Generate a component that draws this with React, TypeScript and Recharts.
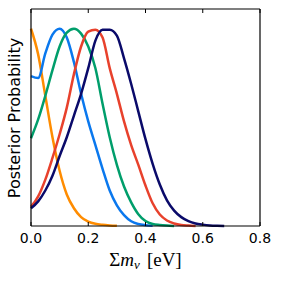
import { LineChart, Line, XAxis, YAxis } from "recharts";

// sum of neutrino masses [eV]
const massGrid = [
  0, 0.025, 0.05, 0.075, 0.1, 0.125, 0.15, 0.175, 0.2, 0.225, 0.25, 0.275,
  0.3, 0.325, 0.35, 0.375, 0.4, 0.425, 0.45, 0.475, 0.5, 0.525, 0.55, 0.575,
  0.6, 0.625, 0.65, 0.675,
];

// normalised posteriors
const orangePost = [
  1.0, 0.87, 0.66, 0.45, 0.28, 0.16, 0.09, 0.045, 0.022, 0.011, 0.006, 0.003,
  0.001,
];
const bluePost = [
  0.76, 0.75, 0.875, 0.97, 1.0, 0.955, 0.83, 0.67, 0.53, 0.41, 0.29, 0.18,
  0.105, 0.055, 0.024, 0.01, 0.004, 0.001,
];
const greenPost = [
  0.445, 0.54, 0.66, 0.79, 0.91, 0.98, 1.0, 0.975, 0.91, 0.8, 0.62, 0.45, 0.31,
  0.2, 0.12, 0.06, 0.025, 0.01, 0.005, 0.002, 0.0,
];
const redPost = [
  0.097, 0.15, 0.235, 0.345, 0.465, 0.6, 0.77, 0.91, 0.985, 0.995, 0.955, 0.8,
  0.67, 0.53, 0.41, 0.31, 0.205, 0.115, 0.058, 0.028, 0.013, 0.005, 0.002, 0.0,
];
const navyPost = [
  0.09, 0.125, 0.18, 0.255, 0.355, 0.45, 0.56, 0.67, 0.8, 0.94, 0.995, 0.995,
  0.965, 0.85, 0.72, 0.58, 0.44, 0.315, 0.21, 0.13, 0.078, 0.045, 0.025, 0.013,
  0.007, 0.003, 0.001, 0.0,
];

const xTicks = [0, 0.2, 0.4, 0.6, 0.8];

const data = massGrid.map((m, i) => ({
  m,
  orange: orangePost[i] ?? null,
  blue: bluePost[i] ?? null,
  green: greenPost[i] ?? null,
  red: redPost[i] ?? null,
  navy: navyPost[i] ?? null,
}));

const BottomTick = ({ x, y, payload }: any) => (
  <g>
    <line x1={x} x2={x} y1={y} y2={y - 4} stroke="#000" strokeWidth={1} />
    <text
      x={x}
      y={y + 17}
      textAnchor="middle"
      fontSize={14}
      fontFamily="DejaVu Sans"
      fill="#000"
    >
      {Number(payload.value).toFixed(1)}
    </text>
  </g>
);

const TopTick = ({ x, y }: any) => (
  <line x1={x} x2={x} y1={y} y2={y + 4} stroke="#000" strokeWidth={1} />
);

const xLabel = (props: any) => {
  const vb = props.viewBox;
  const cx = vb.x + vb.width / 2;
  return (
    <text
      x={cx}
      y={266}
      textAnchor="middle"
      fontFamily="Liberation Serif"
      fontSize={19}
      fill="#000"
    >
      <tspan>Σ</tspan>
      <tspan fontStyle="italic">m</tspan>
      <tspan fontStyle="italic" fontSize={13} dy={3}>
        ν
      </tspan>
      <tspan dy={-3} dx={7}>
        [eV]
      </tspan>
    </text>
  );
};

const yLabel = () => (
  <text
    x={20}
    y={118}
    transform="rotate(-90, 20, 118)"
    textAnchor="middle"
    fontFamily="DejaVu Sans"
    fontSize={16}
    fill="#000"
  >
    Posterior Probability
  </text>
);

export default function App() {
  return (
    <div style={{ position: "absolute", left: 0, top: 0 }}>
      <LineChart
        width={281}
        height={283}
        data={data}
        margin={{ top: 8, right: 20, bottom: 27, left: 30 }}
      >
        <XAxis
          dataKey="m"
          type="number"
          domain={[0, 0.8]}
          ticks={xTicks}
          interval={0}
          height={30}
          tickSize={0}
          tickMargin={0}
          tickLine={false}
          tick={<BottomTick />}
          axisLine={{ stroke: "#000", strokeWidth: 1.2 }}
          label={xLabel}
        />
        <XAxis
          xAxisId="top"
          orientation="top"
          dataKey="m"
          type="number"
          domain={[0, 0.8]}
          ticks={xTicks}
          interval={0}
          height={1}
          tickSize={0}
          tickMargin={0}
          tickLine={false}
          tick={<TopTick />}
          axisLine={{ stroke: "#000", strokeWidth: 1.2 }}
        />
        <YAxis
          domain={[0, 1.1]}
          width={1}
          tick={false}
          tickLine={false}
          axisLine={{ stroke: "#000", strokeWidth: 1.2 }}
          label={yLabel}
        />
        <YAxis
          yAxisId="right"
          orientation="right"
          domain={[0, 1.1]}
          width={1}
          tick={false}
          tickLine={false}
          axisLine={{ stroke: "#000", strokeWidth: 1.2 }}
        />
        <Line
          type="monotone"
          dataKey="orange"
          stroke="#ff8c00"
          strokeWidth={2.5}
          dot={false}
          isAnimationActive={false}
        />
        <Line
          type="monotone"
          dataKey="blue"
          stroke="#0a78ee"
          strokeWidth={2.5}
          dot={false}
          isAnimationActive={false}
        />
        <Line
          type="monotone"
          dataKey="green"
          stroke="#009e6b"
          strokeWidth={2.5}
          dot={false}
          isAnimationActive={false}
        />
        <Line
          type="monotone"
          dataKey="red"
          stroke="#e8412c"
          strokeWidth={2.5}
          dot={false}
          isAnimationActive={false}
        />
        <Line
          type="monotone"
          dataKey="navy"
          stroke="#0a0a6a"
          strokeWidth={2.5}
          dot={false}
          isAnimationActive={false}
        />
      </LineChart>
    </div>
  );
}
